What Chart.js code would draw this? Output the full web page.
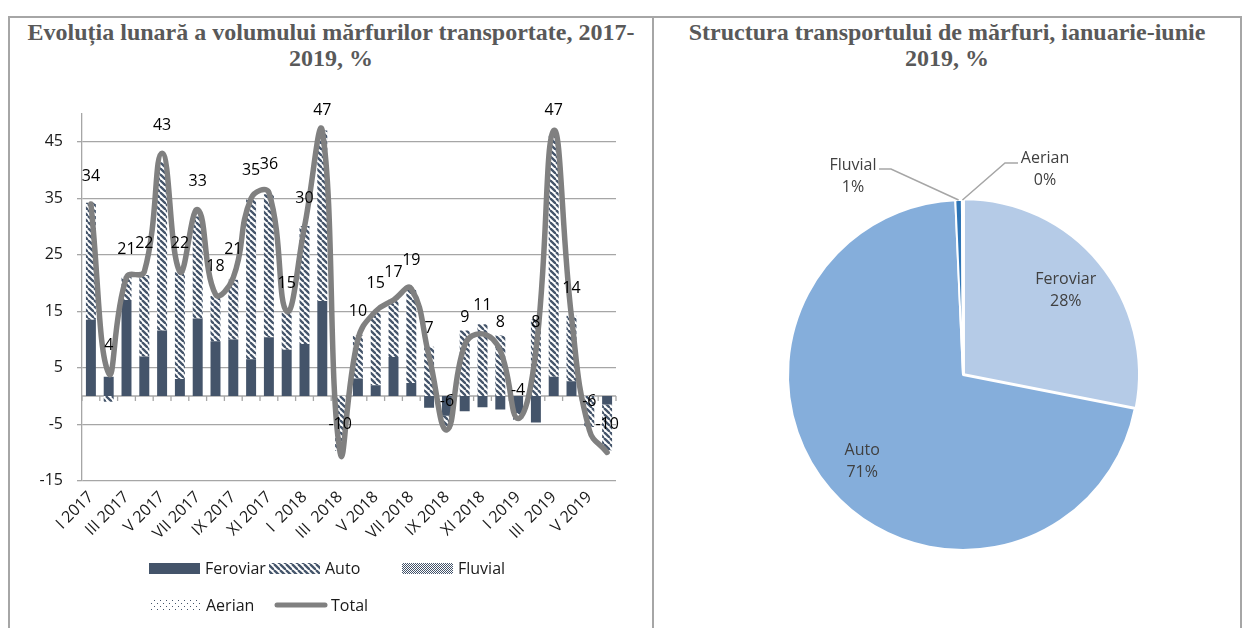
<!DOCTYPE html>
<html>
<head>
<meta charset="utf-8">
<script src="https://cdn.jsdelivr.net/npm/chart.js@4.4.1/dist/chart.umd.min.js"></script>
<style>
  body { margin: 0; background: #fff; width: 1244px; height: 628px; overflow: hidden; position: relative; font-family: "Open Sans", sans-serif; }
  .line { position: absolute; background: #a6a6a6; }
  .title { position: absolute; font-family: "Liberation Serif", serif; font-weight: bold; font-size: 24px; line-height: 26px; color: #595959; text-align: center; }
  .box { position: absolute; }
</style>
</head>
<body>
<div class="line" style="left:8px;top:16px;width:1234px;height:2px"></div>
<div class="line" style="left:8px;top:16px;width:2px;height:612px"></div>
<div class="line" style="left:652px;top:16px;width:2px;height:612px"></div>
<div class="line" style="left:1240px;top:16px;width:2px;height:612px"></div>

<div class="title" style="left:10px;top:19px;width:642px">Evoluția lunară a volumului mărfurilor transportate, 2017-<br>2019, %</div>
<div class="title" style="left:654px;top:19px;width:586px">Structura transportului de mărfuri, ianuarie-iunie<br>2019, %</div>

<div class="box" style="left:10px;top:90px;width:642px;height:538px"><canvas id="barChart"></canvas></div>
<div class="box" style="left:654px;top:90px;width:585px;height:538px"><canvas id="pieChart"></canvas></div>

<script>
// months I 2017 .. VI 2019
const months = [
  'I 2017', 'II 2017', 'III 2017', 'IV 2017', 'V 2017', 'VI 2017',
  'VII 2017', 'VIII 2017', 'IX 2017', 'X 2017', 'XI 2017', 'XII 2017',
  'I  2018', 'II 2018', 'III  2018', 'IV 2018', 'V 2018', 'VI 2018',
  'VII 2018', 'VIII 2018', 'IX 2018', 'X 2018', 'XI 2018', 'XII 2018',
  'I 2019', 'II 2019', 'III  2019', 'IV 2019', 'V 2019', 'VI 2019'
];
const feroviar = [13.5, 3.4, 17.0, 7.0, 11.6, 3.0, 13.7, 9.7, 10.0, 6.5, 10.4, 8.2,
                  9.2, 16.8, 0, 3.1, 1.9, 6.9, 2.3, -2.1, -3.5, -2.7, -2.0, -2.4,
                  -3.0, -4.7, 3.4, 2.6, 0, -1.5];
const auto = [20.7, -1.0, 4.1, 14.4, 29.8, 18.9, 18.1, 8.0, 10.6, 28.3, 25.3, 6.6,
              20.9, 30.2, -9.7, 7.6, 12.9, 10.2, 16.5, 8.7, -2.2, 11.6, 12.7, 10.7,
              -1.2, 13.6, 42.7, 11.6, -5.5, -8.1];
const fluvial = [0, 0, 0, 0, 0, 0, 0, 0, 0, 0, 0, 0, 0, 0, 0,
                 0, 0, 0, 0, 0, 0, 0, 0, 0, 0, 0, 0, 0, 0, 0];
const aerian = [0, 0, 0, 0, 0, 0, 0, 0, 0, 0, 0, 0, 0, 0, 0,
                0, 0, 0, 0, 0, 0, 0, 0, 0, 0, 0, 0, 0, 0, 0];
const total = [34, 4, 21, 22, 43, 22, 33, 18, 21, 35, 36, 15,
               30, 47, -10, 10, 15, 17, 19, 7, -6, 9, 11, 8,
               -4, 8, 47, 14, -6, -10];
const yTicks = [-15, -5, 5, 15, 25, 35, 45];

// pie, ianuarie-iunie 2019
const pieCategories = ['Feroviar', 'Auto', 'Fluvial', 'Aerian'];
const pieValues = [28.1, 71.2, 0.6, 0.1];

const navy = '#44546A';
const gridGray = '#a6a6a6';
const txt = '#1a1a1a';
const fontSize = 16;

function makePattern(kind) {
  const c = document.createElement('canvas');
  const s = 6;
  c.width = s; c.height = s;
  const g = c.getContext('2d');
  g.fillStyle = '#fff';
  g.fillRect(0, 0, s, s);
  g.fillStyle = navy;
  g.strokeStyle = navy;
  if (kind === 'diag') {
    g.lineWidth = 2.3;
    [-s, 0, s].forEach(dx => {
      g.beginPath(); g.moveTo(dx, 0); g.lineTo(dx + s, s); g.stroke();
    });
  } else if (kind === 'check') {
    for (let yy = 0; yy < s; yy++)
      for (let xx = 0; xx < s; xx++)
        if ((xx + yy) % 2 === 0) g.fillRect(xx, yy, 1, 1);
  } else {
    g.fillRect(0, 0, 1, 1);
    g.fillRect(3, 3, 1, 1);
  }
  return g.createPattern(c, 'repeat');
}
const autoFill = makePattern('diag');
const fluvialFill = makePattern('check');
const aerianFill = makePattern('dots');

// legend entries drawn by hand (two rows like the original)
const legendItems = [
  { text: 'Feroviar', fill: navy, x: 139, y: 478 },
  { text: 'Auto', fill: autoFill, x: 259, y: 478 },
  { text: 'Fluvial', fill: fluvialFill, x: 392, y: 478 },
  { text: 'Aerian', fill: aerianFill, x: 140, y: 515 },
  { text: 'Total', line: true, x: 265, y: 515 }
];

const barExtras = {
  id: 'barExtras',
  beforeDatasetsDraw(chart) {
    const { ctx, chartArea, scales: { y } } = chart;
    const y0 = y.getPixelForValue(0);
    const step = (chartArea.right - chartArea.left) / months.length;
    ctx.save();
    ctx.strokeStyle = gridGray;
    ctx.lineWidth = 1.3;
    ctx.beginPath();
    ctx.moveTo(chartArea.left, y0);
    ctx.lineTo(chartArea.right, y0);
    for (let i = 0; i <= months.length; i++) {
      const px = chartArea.left + i * step;
      ctx.moveTo(px, y0);
      ctx.lineTo(px, y0 + 5);
    }
    ctx.stroke();
    ctx.restore();
  },
  afterDatasetsDraw(chart) {
    const { ctx, chartArea, scales: { y } } = chart;
    const pts = chart.getDatasetMeta(4).data;
    ctx.save();
    ctx.font = fontSize + 'px "Open Sans"';
    ctx.fillStyle = '#000';
    ctx.textAlign = 'center';
    ctx.textBaseline = 'middle';
    pts.forEach((p, i) => {
      const ly = Math.max(y.getPixelForValue(total[i]) - 28, chartArea.top - 3);
      ctx.fillText(String(total[i]), p.x, ly);
    });
    ctx.restore();
  },
  afterDraw(chart) {
    const ctx = chart.ctx;
    ctx.save();
    ctx.font = fontSize + 'px "Open Sans"';
    ctx.textBaseline = 'middle';
    legendItems.forEach(it => {
      if (it.line) {
        ctx.strokeStyle = '#808080';
        ctx.lineWidth = 5;
        ctx.lineCap = 'round';
        ctx.beginPath();
        ctx.moveTo(it.x + 2, it.y);
        ctx.lineTo(it.x + 50, it.y);
        ctx.stroke();
      } else {
        ctx.fillStyle = it.fill;
        ctx.fillRect(it.x, it.y - 5, 51, 11);
      }
      ctx.fillStyle = txt;
      ctx.fillText(it.text, it.x + 56, it.y + 1);
    });
    ctx.restore();
  }
};

new Chart(document.getElementById('barChart'), {
  type: 'bar',
  data: {
    labels: months,
    datasets: [
      { label: 'Feroviar', data: feroviar, backgroundColor: navy, stack: 's', order: 1 },
      { label: 'Auto', data: auto, backgroundColor: autoFill, stack: 's', order: 1 },
      { label: 'Fluvial', data: fluvial, backgroundColor: fluvialFill, stack: 's', order: 1 },
      { label: 'Aerian', data: aerian, backgroundColor: aerianFill, stack: 's', order: 1 },
      {
        type: 'line', label: 'Total', data: total, stack: 'total', order: 0,
        borderColor: '#808080', borderWidth: 5.5, tension: 0.45, pointRadius: 0,
        borderCapStyle: 'round', borderJoinStyle: 'round', fill: false
      }
    ]
  },
  options: {
    responsive: true,
    maintainAspectRatio: false,
    animation: false,
    layout: { padding: { top: 16.7, right: 36, left: 0, bottom: 0 } },
    datasets: { bar: { categoryPercentage: 1, barPercentage: 0.56 } },
    plugins: { legend: { display: false }, tooltip: { enabled: false } },
    scales: {
      x: {
        stacked: true,
        grid: { display: false, drawTicks: false },
        border: { display: false },
        ticks: {
          autoSkip: false, minRotation: 45, maxRotation: 45, padding: 7,
          color: txt, font: { family: 'Open Sans', size: fontSize },
          callback: (v, i) => (i % 2 === 0 ? months[i] : '')
        },
        afterFit: s => { s.height = 147.3; }
      },
      y: {
        stacked: true,
        min: -15,
        max: 50,
        afterBuildTicks: s => { s.ticks = yTicks.map(v => ({ value: v })); },
        grid: { color: gridGray, lineWidth: 1.3, tickLength: 5 },
        border: { color: gridGray, width: 1.3 },
        ticks: { padding: 14, color: txt, font: { family: 'Open Sans', size: fontSize } },
        afterFit: s => { s.width = 72; }
      }
    }
  },
  plugins: [barExtras]
});

// outside labels for the small slices: offsets from the pie centre
const outside = {
  2: { lx: -110, ly: -210, from: [-84, -206], to: [-72, -206] },
  3: { lx: 82, ly: -217, from: [55, -212], to: [42, -212] }
};

const pieLabels = {
  id: 'pieLabels',
  afterDatasetsDraw(chart) {
    const ctx = chart.ctx;
    const arcs = chart.getDatasetMeta(0).data;
    const sum = pieValues.reduce((a, b) => a + b, 0);
    ctx.save();
    ctx.font = fontSize + 'px "Open Sans"';
    ctx.textAlign = 'center';
    ctx.textBaseline = 'middle';
    arcs.forEach((arc, i) => {
      const { x, y, startAngle, endAngle, outerRadius } =
        arc.getProps(['x', 'y', 'startAngle', 'endAngle', 'outerRadius'], true);
      const mid = (startAngle + endAngle) / 2;
      const pct = Math.round(pieValues[i] / sum * 100) + '%';
      if (outside[i]) {
        const o = outside[i];
        ctx.strokeStyle = gridGray;
        ctx.lineWidth = 1.5;
        ctx.beginPath();
        ctx.moveTo(x + o.from[0], y + o.from[1]);
        ctx.lineTo(x + o.to[0], y + o.to[1]);
        ctx.lineTo(x + Math.cos(mid) * outerRadius, y + Math.sin(mid) * outerRadius);
        ctx.stroke();
        ctx.fillStyle = '#404040';
        ctx.fillText(pieCategories[i], x + o.lx, y + o.ly);
        ctx.fillText(pct, x + o.lx, y + o.ly + 22);
      } else {
        const lx = x + Math.cos(mid) * outerRadius * 0.76;
        const ly = y + Math.sin(mid) * outerRadius * 0.76;
        ctx.fillStyle = '#404040';
        ctx.fillText(pieCategories[i], lx, ly - 11);
        ctx.fillText(pct, lx, ly + 11);
      }
    });
    ctx.restore();
  }
};

new Chart(document.getElementById('pieChart'), {
  type: 'pie',
  data: {
    labels: pieCategories,
    datasets: [{
      data: pieValues,
      backgroundColor: ['#B5CBE7', '#85AEDB', '#2E75B6', '#1F4E79'],
      borderColor: '#fff',
      borderWidth: 2,
      offset: [5, 0, 0, 0]
    }]
  },
  options: {
    responsive: true,
    maintainAspectRatio: false,
    animation: false,
    radius: 175,
    layout: { padding: { left: 33, right: 0, top: 32, bottom: 0 } },
    plugins: { legend: { display: false }, tooltip: { enabled: false } }
  },
  plugins: [pieLabels]
});
</script>
</body>
</html>
